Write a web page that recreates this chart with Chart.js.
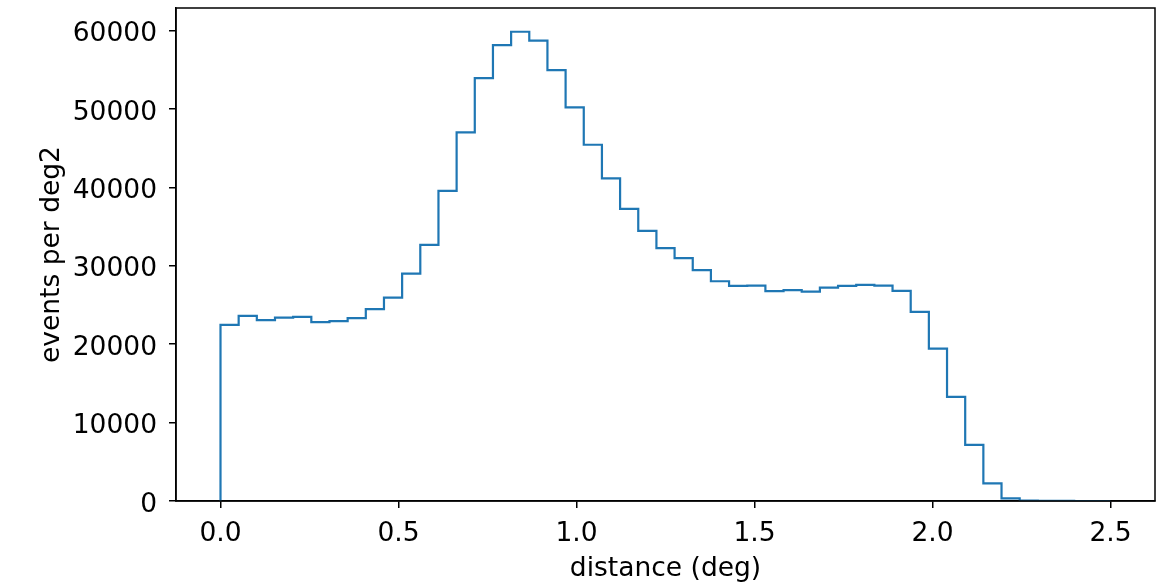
<!DOCTYPE html>
<html>
<head>
<meta charset="utf-8">
<script src="https://cdn.jsdelivr.net/npm/chart.js@4/dist/chart.umd.min.js"></script>
<style>
  html, body { margin: 0; padding: 0; background: #fff; }
  #wrap { width: 1157px; height: 584px; position: relative; }
</style>
</head>
<body>
<div id="wrap"><canvas id="c" width="1157" height="584"></canvas></div>
<script>
// Histogram: 49 bins between 0 and 2.5 deg
const binStart = 0;
const binEnd = 2.5;
const counts = [22470, 23620, 23070, 23400, 23490, 22810, 22940, 23320, 24470, 25960,
                29020, 32680, 39580, 47020, 53960, 58170, 59870, 58730, 54980, 50210,
                45450, 41150, 37280, 34470, 32260, 30980, 29450, 28040, 27450, 27490,
                26770, 26900, 26720, 27230, 27450, 27580, 27490, 26810, 24130, 19450,
                13280, 7150, 2260, 340, 40, 15, 5, 2, 0];
const xTicks = [0, 0.5, 1.0, 1.5, 2.0, 2.5];
const yTicks = [0, 10000, 20000, 30000, 40000, 50000, 60000];
const xLabel = 'distance (deg)';
const yLabel = 'events per deg2';

const nBins = counts.length;
const width = (binEnd - binStart) / nBins;
const pts = [{x: binStart, y: 0}];
counts.forEach((c, i) => pts.push({x: binStart + i * width, y: c}));
pts.push({x: binEnd, y: 0});

const FONT_SIZE = 26.5;
const FONT = FONT_SIZE + "px 'DejaVu Sans', sans-serif";

const textPlugin = {
  id: 'texts',
  afterDatasetsDraw(chart) {
    const {ctx, chartArea: a, scales} = chart;
    ctx.save();
    // frame
    ctx.strokeStyle = '#000';
    ctx.lineWidth = 1.5;
    ctx.strokeRect(a.left, a.top, a.right - a.left, a.bottom - a.top);
    ctx.fillStyle = '#000';
    ctx.font = FONT;
    // x tick labels
    ctx.textAlign = 'center';
    ctx.textBaseline = 'alphabetic';
    xTicks.forEach(v => {
      ctx.fillText(v.toFixed(1), scales.x.getPixelForValue(v), 540.5);
    });
    // y tick labels
    ctx.textAlign = 'right';
    yTicks.forEach(v => {
      ctx.fillText(String(v), 157, scales.y.getPixelForValue(v) + 10.5);
    });
    // x title
    ctx.textAlign = 'center';
    ctx.textBaseline = 'middle';
    ctx.fillText(xLabel, (a.left + a.right) / 2, 569);
    // y title
    ctx.translate(52, (a.top + a.bottom) / 2);
    ctx.rotate(-Math.PI / 2);
    ctx.fillText(yLabel, 0, 0);
    ctx.restore();
  }
};

new Chart(document.getElementById('c'), {
  type: 'line',
  data: {
    datasets: [{
      data: pts,
      borderColor: '#1f77b4',
      borderWidth: 2.2,
      stepped: 'before',
      pointRadius: 0,
      fill: false,
      tension: 0
    }]
  },
  options: {
    responsive: false,
    animation: false,
    events: [],
    layout: { padding: { left: 0, right: 2, top: 8, bottom: 0 } },
    plugins: { legend: { display: false }, tooltip: { enabled: false } },
    scales: {
      x: {
        type: 'linear',
        min: -0.125,
        max: 2.625,
        afterBuildTicks: s => { s.ticks = xTicks.map(v => ({value: v})); },
        afterFit: s => { s.height = 83; },
        grid: { drawOnChartArea: false, color: '#000', lineWidth: 1.5, tickLength: 7 },
        border: { display: true, color: '#000', width: 1.5 },
        ticks: { display: false }
      },
      y: {
        type: 'linear',
        min: 0,
        max: 62900,
        afterBuildTicks: s => { s.ticks = yTicks.map(v => ({value: v})); },
        afterFit: s => { s.width = 176; },
        grid: { drawOnChartArea: false, color: '#000', lineWidth: 1.5, tickLength: 7 },
        border: { display: true, color: '#000', width: 1.5 },
        ticks: { display: false }
      }
    }
  },
  plugins: [textPlugin]
});
</script>
</body>
</html>
